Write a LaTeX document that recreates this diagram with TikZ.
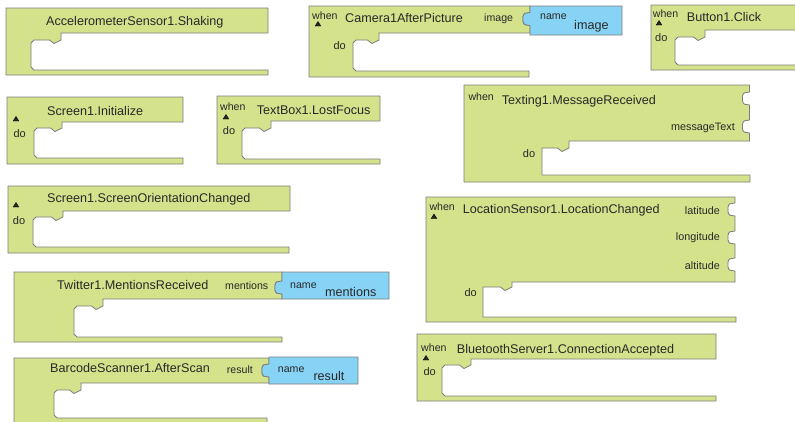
\documentclass[tikz,border=0pt]{standalone}
\usepackage{fontspec}
\setmainfont{Liberation Sans}

\definecolor{blockgreen}{RGB}{212,226,140}
\definecolor{paramblue}{RGB}{135,211,245}
\definecolor{edgegray}{RGB}{125,125,125}
\definecolor{inkgray}{RGB}{40,40,40}

% socket on a right edge, traversed downward (bulges to the left)
\newcommand\sockdn[2]{-- (#1,#2) -- ({#1-3},{#2+0.5}) .. controls ({#1-6},{#2}) and ({#1-7.5},{#2+3}) .. ({#1-7},{#2+6.5}) .. controls ({#1-7.5},{#2+10}) and ({#1-6},{#2+13}) .. ({#1-3},{#2+12.5}) -- (#1,{#2+13})}
% the same plug shape, traversed upward
\newcommand\sockup[2]{-- (#1,{#2+13}) -- ({#1-3},{#2+12.5}) .. controls ({#1-6},{#2+13}) and ({#1-7.5},{#2+10}) .. ({#1-7},{#2+6.5}) .. controls ({#1-7.5},{#2+3}) and ({#1-6},{#2}) .. ({#1-3},{#2+0.5}) -- (#1,#2)}
% statement mouth: notch x, mouth top (right), mouth top (left), mouth left x,
% mouth bottom, bottom-right x, block bottom, corner chamfer
\newcommand\mouth[8]{-- (#1,#2) -- (#1,#3) -- ({#1-7},{#3+3.5}) -- ({#1-11.5},#3) -- ({#4+#8},#3) -- (#4,{#3+#8}) -- (#4,{#5-#8}) -- ({#4+#8},#5) -- (#6,#5) -- (#6,#7)}

\tikzset{
  x=1pt, y=-1pt,
  evblock/.style={fill=blockgreen, draw=edgegray, line width=0.8pt, line join=miter},
  parblock/.style={fill=paramblue, draw=edgegray, line width=0.8pt},
  title/.style={anchor=base west, inner sep=0pt, text=inkgray, font=\fontsize{12.6}{14}\selectfont},
  small/.style={anchor=base west, inner sep=0pt, text=inkgray, font=\fontsize{10.6}{12}\selectfont},
  smallr/.style={anchor=base east, inner sep=0pt, text=inkgray, font=\fontsize{10.8}{12}\selectfont},
  dolabel/.style={anchor=base west, inner sep=0pt, text=inkgray, font=\fontsize{11}{12}\selectfont},
  pname/.style={anchor=base west, inner sep=0pt, text=inkgray, font=\fontsize{12.6}{14}\selectfont},
  tri/.style={fill=inkgray},
}

\begin{document}
\begin{tikzpicture}
\useasboundingbox (0,0) rectangle (795,421);

% AccelerometerSensor1.Shaking
\draw[evblock] (6,8) -- (268,8) -- (268,33) \mouth{61}{33}{40}{31}{70}{268}{75}{3} -- (6,75) -- cycle;
\node[title] (acc) at (46,25) {AccelerometerSensor1.Shaking};

% Camera1AfterPicture
\draw[evblock] (309,6) -- (530,6) \sockdn{530}{12.5} -- (530,33) \mouth{379}{33}{40}{353}{71}{529}{77}{3} -- (309,77) -- cycle;
\draw[parblock] (530,6) -- (622,6) -- (622,35) -- (530,35) \sockup{530}{12.5} -- cycle;
\node[small] (camwhen) at (312,19) {when};
\draw[tri] (315.2,26) -- (320.8,26) -- (318,21.5) -- cycle;
\node[title] (cam) at (345,22.5) {Camera1AfterPicture};
\node[small] (camimg) at (484,21) {image};
\node[small] (camname) at (540,19.3) {name};
\node[pname] (camval) at (574,29) {image};
\node[dolabel] (camdo) at (333.3,49) {do};

% Button1.Click
\draw[evblock] (651,5) -- (800,5) -- (800,30) \mouth{705}{30}{37}{675}{65}{800}{70}{3} -- (651,70) -- cycle;
\node[small] (btnwhen) at (652.7,17) {when};
\draw[tri] (656.2,25) -- (661.8,25) -- (659,20.5) -- cycle;
\node[title] (btn) at (686.7,21.5) {Button1.Click};
\node[dolabel] (btndo) at (655,41.7) {do};

% Screen1.Initialize
\draw[evblock] (7,97) -- (183,97) -- (183,122) \mouth{62}{122}{128}{34}{158}{183}{164}{3} -- (7,164) -- cycle;
\draw[tri] (13.2,121) -- (18.8,121) -- (16,116.5) -- cycle;
\node[title] (init) at (47,115.5) {Screen1.Initialize};
\node[dolabel] (initdo) at (13.3,137.3) {do};

% TextBox1.LostFocus
\draw[evblock] (217,96) -- (380,96) -- (380,121) \mouth{271}{121}{128}{242}{159}{380}{164}{3} -- (217,164) -- cycle;
\node[small] (tbwhen) at (220,110.5) {when};
\draw[tri] (223.2,119) -- (228.8,119) -- (226,114.5) -- cycle;
\node[title] (tb) at (256.7,114) {TextBox1.LostFocus};
\node[dolabel] (tbdo) at (222.7,134.7) {do};

% Screen1.ScreenOrientationChanged
\draw[evblock] (8,186) -- (290,186) -- (290,211) \mouth{63}{211}{217}{33}{247}{289}{253}{3} -- (8,253) -- cycle;
\draw[tri] (13.2,207) -- (18.8,207) -- (16,202.5) -- cycle;
\node[title] (orient) at (47,202) {Screen1.ScreenOrientationChanged};
\node[dolabel] (orientdo) at (12.7,224) {do};

% Texting1.MessageReceived
\draw[evblock] (464,85) -- (749.5,85) \sockdn{749.5}{92} \sockdn{749.5}{120} -- (749.5,141) \mouth{569}{141}{148}{542}{175}{750}{182}{0} -- (464,182) -- cycle;
\node[small] (txwhen) at (468.3,100) {when};
\node[title] (tx) at (501.7,104) {Texting1.MessageReceived};
\node[smallr] (txmsg) at (735,130.5) {messageText};
\node[dolabel] (txdo) at (522.7,157.3) {do};

% LocationSensor1.LocationChanged
\draw[evblock] (426,197) -- (735,197) \sockdn{735}{203} \sockdn{735}{231} \sockdn{735}{258} -- (735,282) \mouth{512}{282}{287}{483}{317}{736}{322}{0} -- (426,322) -- cycle;
\node[small] (locwhen) at (429.3,210.5) {when};
\draw[tri] (431.2,218.5) -- (436.8,218.5) -- (434,214) -- cycle;
\node[title] (loc) at (462.7,213.3) {LocationSensor1.LocationChanged};
\node[smallr] (loclat) at (720,214) {latitude};
\node[smallr] (loclon) at (720,240.7) {longitude};
\node[smallr] (localt) at (720,269) {altitude};
\node[dolabel] (locdo) at (464.3,296) {do};

% Twitter1.MentionsReceived
\draw[evblock] (14,272) -- (282,272) \sockdn{282}{281} -- (282,299) \mouth{103}{299}{306}{74}{337}{282}{342}{3} -- (14,342) -- cycle;
\draw[parblock] (282,272) -- (389,272) -- (389,299) -- (282,299) \sockup{282}{281} -- cycle;
\node[title] (tw) at (57,289) {Twitter1.MentionsReceived};
\node[small] (twarg) at (225,289) {mentions};
\node[small] (twname) at (290,288.3) {name};
\node[pname] (twval) at (325,296.7) {mentions};

% BarcodeScanner1.AfterScan
\draw[evblock] (14,358) -- (269,358) \sockdn{269}{364} -- (269,383) \mouth{81}{383}{390}{54}{418}{267}{426}{3} -- (14,426) -- cycle;
\draw[parblock] (269,357) -- (358,357) -- (358,384) -- (269,384) \sockup{269}{364} -- cycle;
\node[title] (bc) at (50,372.5) {BarcodeScanner1.AfterScan};
\node[small] (bcarg) at (226.7,373) {result};
\node[small] (bcname) at (277.7,372) {name};
\node[pname] (bcval) at (313.3,380.5) {result};

% BluetoothServer1.ConnectionAccepted
\draw[evblock] (417,334) -- (716,334) -- (716,359) \mouth{471}{359}{365}{442}{396}{716}{401}{3} -- (417,401) -- cycle;
\node[small] (btwhen) at (421,351.5) {when};
\draw[tri] (423.2,360) -- (428.8,360) -- (426,355.5) -- cycle;
\node[title] (bt) at (456.7,353) {BluetoothServer1.ConnectionAccepted};
\node[dolabel] (btdo) at (423.3,375.7) {do};
\end{tikzpicture}
\end{document}
